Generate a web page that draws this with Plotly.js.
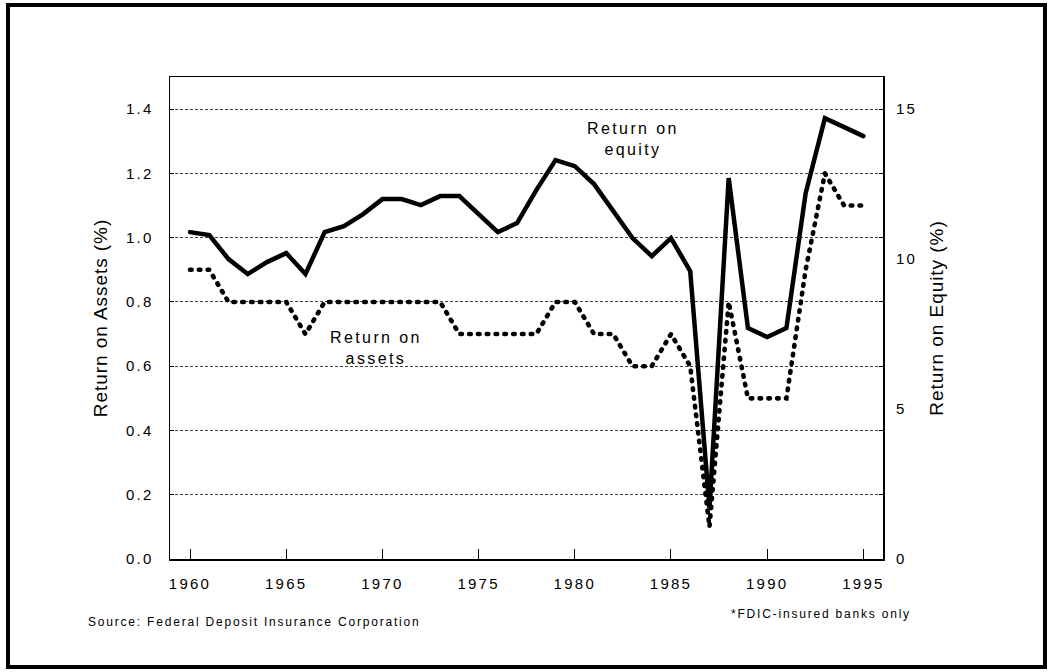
<!DOCTYPE html>
<html>
<head>
<meta charset="utf-8">
<script src="https://cdn.plot.ly/plotly-3.0.1.min.js"></script>
<style>
  html, body { margin: 0; padding: 0; background: #fff; }
  #chart { width: 1050px; height: 672px; }
  svg text { letter-spacing: 0.15em; }
  .g-ytitle text, .g-y2title text { letter-spacing: 0.05em !important; }
  .subplot.xy .scatterlayer .js-line { stroke-linecap: round; }
</style>
</head>
<body>
<div id="chart"></div>
<script>
// ---- data ----
const years = [1960,1961,1962,1963,1964,1965,1966,1967,1968,1969,
               1970,1971,1972,1973,1974,1975,1976,1977,1978,1979,
               1980,1981,1982,1983,1984,1985,1986,1987,1988,1989,
               1990,1991,1992,1993,1994,1995];
// Return on assets (%), left axis, dotted
const returnOnAssets = [0.9,0.9,0.8,0.8,0.8,0.8,0.7,0.8,0.8,0.8,
                        0.8,0.8,0.8,0.8,0.7,0.7,0.7,0.7,0.7,0.8,
                        0.8,0.7,0.7,0.6,0.6,0.7,0.6,0.1,0.8,0.5,
                        0.5,0.5,0.9,1.2,1.1,1.1];
// Return on equity (%), right axis, solid
const returnOnEquity = [10.9,10.8,10.0,9.5,9.9,10.2,9.5,10.9,11.1,11.5,
                        12.0,12.0,11.8,12.1,12.1,11.5,10.9,11.2,12.3,13.3,
                        13.1,12.5,11.6,10.7,10.1,10.7,9.6,1.7,12.7,7.7,
                        7.4,7.7,12.2,14.7,14.4,14.1];
const xTickVals = [1960,1965,1970,1975,1980,1985,1990,1995];
const leftTickVals = [0,0.2,0.4,0.6,0.8,1.0,1.2,1.4];
const leftTickText = ['0.0','0.2','0.4','0.6','0.8','1.0','1.2','1.4'];
const rightTickVals = [0,5,10,15];

const FONT = 'Liberation Sans, Arial, Helvetica, sans-serif';

const traces = [
  {
    x: years, y: returnOnAssets, type: 'scatter', mode: 'lines',
    name: 'Return on assets', yaxis: 'y',
    line: { color: '#000', width: 4.6, dash: '1.6px,7.2px' },
    hoverinfo: 'skip'
  },
  {
    x: years, y: returnOnEquity, type: 'scatter', mode: 'lines',
    name: 'Return on equity', yaxis: 'y2',
    line: { color: '#000', width: 4.5 },
    hoverinfo: 'skip'
  }
];

const layout = {
  width: 1050, height: 672,
  margin: { l: 170, r: 167, t: 77, b: 113, pad: 0 },
  paper_bgcolor: '#fff', plot_bgcolor: '#fff',
  showlegend: false,
  font: { family: FONT, color: '#000', size: 15 },
  xaxis: {
    range: [1958.96, 1996.02],
    tickvals: xTickVals,
    ticks: 'inside', ticklen: 10, tickwidth: 1, tickcolor: '#000',
    showline: true, linecolor: '#000', linewidth: 1.5, mirror: true,
    showgrid: false, zeroline: false,
    tickfont: { family: FONT, size: 15, color: '#000' },
    ticklabelstandoff: 10
  },
  yaxis: {
    range: [0, 1.5],
    tickvals: leftTickVals, ticktext: leftTickText,
    ticks: 'inside', ticklen: 4, tickwidth: 1, tickcolor: '#000',
    showline: true, linecolor: '#000', linewidth: 1.5, mirror: 'ticks',
    showgrid: true, gridcolor: '#444', gridwidth: 1, griddash: '3px,2px',
    zeroline: false,
    tickfont: { family: FONT, size: 15, color: '#000' },
    ticklabelstandoff: 12,
    title: { text: 'Return on Assets (%)', font: { family: FONT, size: 19, color: '#000' }, standoff: 13 }
  },
  yaxis2: {
    overlaying: 'y', side: 'right',
    range: [0, 1.5 * 15 / 1.4],
    tickvals: rightTickVals,
    ticks: '', showline: false, showgrid: false, zeroline: false,
    tickfont: { family: FONT, size: 15, color: '#000' },
    ticklabelstandoff: 12,
    title: { text: 'Return on Equity (%)', font: { family: FONT, size: 19, color: '#000' }, standoff: 13 }
  },
  annotations: [
    { text: 'Return on<br>equity', xref: 'x', yref: 'y', x: 1983.03, y: 1.307,
      showarrow: false, font: { family: FONT, size: 16, color: '#000' }, align: 'center' },
    { text: 'Return on<br>assets', xref: 'x', yref: 'y', x: 1969.67, y: 0.6565,
      showarrow: false, font: { family: FONT, size: 16, color: '#000' }, align: 'center' },
    { text: 'Source: Federal Deposit Insurance Corporation', xref: 'paper', yref: 'paper',
      x: -0.1178, y: -0.1307, xanchor: 'left', yanchor: 'middle', showarrow: false,
      font: { family: FONT, size: 12, color: '#000' } },
    { text: '*FDIC-insured banks only', xref: 'paper', yref: 'paper',
      x: 1.0421, y: -0.1141, xanchor: 'right', yanchor: 'middle', showarrow: false,
      font: { family: FONT, size: 12, color: '#000' } }
  ],
  shapes: [
    { type: 'rect', xref: 'paper', yref: 'paper',
      x0: -0.2272, x1: 1.2272, y0: -0.2241, y1: 1.1494,
      line: { color: '#000', width: 4 }, fillcolor: 'rgba(0,0,0,0)', layer: 'above' }
  ]
};

Plotly.newPlot('chart', traces, layout, { staticPlot: true, displayModeBar: false });
</script>
</body>
</html>
